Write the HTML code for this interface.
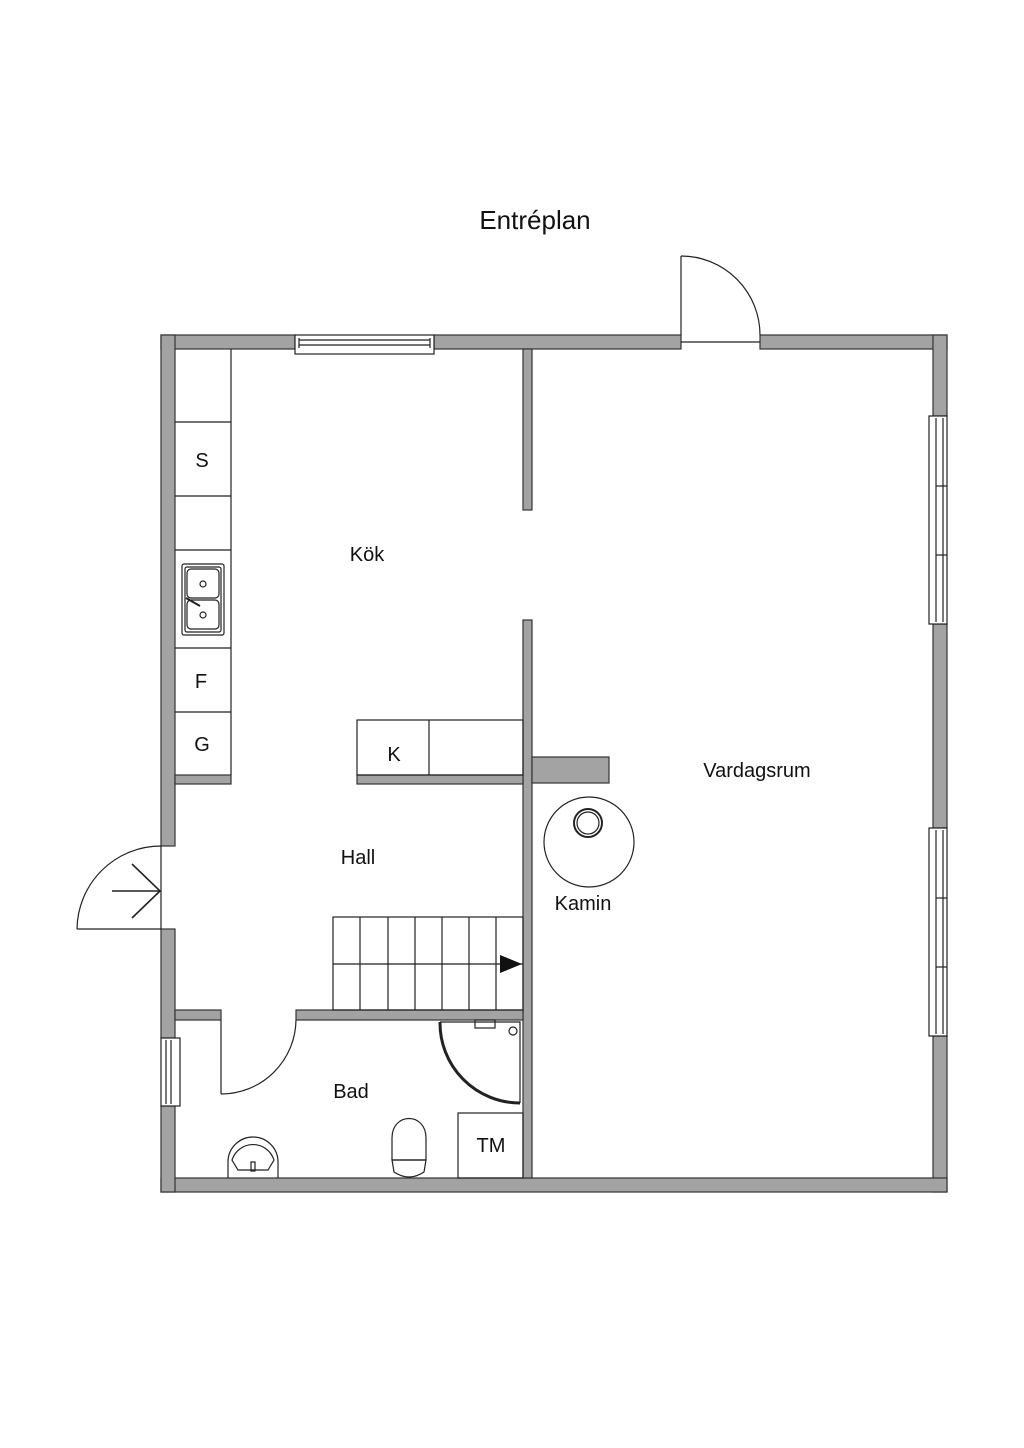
<!DOCTYPE html>
<html><head><meta charset="utf-8"><style>
html,body{margin:0;padding:0;background:#fff;}
svg{display:block;}
text{font-family:"Liberation Sans",sans-serif;fill:#111;}
</style></head><body>
<svg width="1024" height="1448" viewBox="0 0 1024 1448" xmlns="http://www.w3.org/2000/svg">
<rect width="1024" height="1448" fill="#fff"/>
<text x="535" y="229" font-size="26" text-anchor="middle">Entréplan</text>
<g fill="#a3a3a3" stroke="#333" stroke-width="1.2">
<!-- top wall -->
<rect x="161" y="335" width="134" height="14"/>
<rect x="434" y="335" width="247" height="14"/>
<rect x="760" y="335" width="187" height="14"/>
<!-- right wall -->
<rect x="933" y="335" width="14" height="81"/>
<rect x="933" y="624" width="14" height="204"/>
<rect x="933" y="1036" width="14" height="156"/>
<!-- bottom -->
<rect x="161" y="1178" width="786" height="14"/>
<!-- left -->
<rect x="161" y="335" width="14" height="511"/>
<rect x="161" y="929" width="14" height="109"/>
<rect x="161" y="1106" width="14" height="86"/>
<!-- interior vertical -->
<rect x="523" y="349" width="9" height="161"/>
<rect x="523" y="620" width="9" height="558"/>
<rect x="532" y="757" width="77" height="26"/>
<!-- kitchen bottom -->
<rect x="357" y="775" width="166" height="9"/>
<rect x="175" y="775" width="56" height="9"/>
<!-- hall/bath -->
<rect x="175" y="1010" width="46" height="10"/>
<rect x="296" y="1010" width="227" height="10"/>
</g>
<g fill="none" stroke="#222" stroke-width="1.2">
<!-- top window -->
<rect x="295" y="335" width="139" height="19" fill="#fff"/>
<line x1="299" y1="340" x2="430" y2="340"/><line x1="299" y1="345" x2="430" y2="345"/>
<line x1="299" y1="338" x2="299" y2="348"/><line x1="430" y1="338" x2="430" y2="348"/>
<!-- right windows -->
<rect x="929" y="416" width="18" height="208" fill="#fff"/>
<line x1="936" y1="418" x2="936" y2="622"/><line x1="943" y1="418" x2="943" y2="622"/>
<line x1="936" y1="486" x2="947" y2="486"/><line x1="936" y1="555" x2="947" y2="555"/>
<rect x="929" y="828" width="18" height="208" fill="#fff"/>
<line x1="936" y1="830" x2="936" y2="1034"/><line x1="943" y1="830" x2="943" y2="1034"/>
<line x1="936" y1="898" x2="947" y2="898"/><line x1="936" y1="967" x2="947" y2="967"/>
<!-- left bath window -->
<rect x="161" y="1038" width="19" height="68" fill="#fff"/>
<line x1="166" y1="1040" x2="166" y2="1104"/><line x1="171" y1="1040" x2="171" y2="1104"/>
<!-- top door -->
<line x1="681" y1="342" x2="760" y2="342"/>
<line x1="681" y1="335" x2="681" y2="256"/>
<path d="M681 256 A79 79 0 0 1 760 335"/>
<!-- entrance door -->
<line x1="161" y1="846" x2="161" y2="929"/>
<line x1="77" y1="929" x2="161" y2="929"/>
<path d="M77 929 A84 84 0 0 1 161 846"/>
<line x1="112" y1="891" x2="160" y2="891" stroke-width="1.6"/>
<polyline points="132,864 160,891 132,918" stroke-width="1.6"/>
<!-- bath door -->
<line x1="221" y1="1020" x2="221" y2="1094"/>
<path d="M221 1094 A75 75 0 0 0 296 1020"/>
<!-- kitchen counter -->
<line x1="231" y1="349" x2="231" y2="775"/>
<line x1="175" y1="422" x2="231" y2="422"/><line x1="175" y1="496" x2="231" y2="496"/>
<line x1="175" y1="550" x2="231" y2="550"/><line x1="175" y1="648" x2="231" y2="648"/>
<line x1="175" y1="712" x2="231" y2="712"/>
<rect x="182" y="564" width="42" height="71" rx="2"/>
<rect x="185" y="567" width="36" height="65" rx="2"/>
<rect x="187" y="569" width="32" height="29" rx="4"/>
<rect x="187" y="600" width="32" height="29" rx="4"/>
<circle cx="203" cy="584" r="3"/><circle cx="203" cy="615" r="3"/>
<line x1="186" y1="598" x2="200" y2="606" stroke-width="2"/>
<!-- K counter -->
<rect x="357" y="720" width="166" height="55"/>
<line x1="429" y1="720" x2="429" y2="775"/>
<!-- stairs -->
<rect x="333" y="917" width="190" height="93"/>
<line x1="333" y1="964" x2="523" y2="964"/>
<line x1="360" y1="917" x2="360" y2="1010"/><line x1="388" y1="917" x2="388" y2="1010"/>
<line x1="415" y1="917" x2="415" y2="1010"/><line x1="442" y1="917" x2="442" y2="1010"/>
<line x1="469" y1="917" x2="469" y2="1010"/><line x1="496" y1="917" x2="496" y2="1010"/>
<!-- kamin -->
<circle cx="589" cy="842" r="45"/>
<circle cx="588" cy="823" r="14" stroke-width="2"/>
<circle cx="588" cy="823" r="11"/>
<!-- shower -->
<path d="M440 1022 L520 1022 L520 1103 L520 1103" />
<path d="M440 1022 A80 80 0 0 0 520 1103" stroke-width="3"/>
<circle cx="513" cy="1031" r="4"/>
<rect x="475" y="1020" width="20" height="8"/>
<!-- TM -->
<rect x="458" y="1113" width="65" height="65"/>
<!-- toilet -->
<path d="M392 1138 C392 1112 426 1112 426 1138 L426 1160 L392 1160 Z"/>
<path d="M392 1160 L426 1160 L424 1172 Q409 1182 394 1172 Z"/>
<!-- bath sink -->
<path d="M228 1178 L228 1162 A25 25 0 0 1 278 1162 L278 1178"/>
<path d="M232 1160 A22 22 0 0 1 274 1160 L268 1170 L238 1170 Z"/>
<rect x="251" y="1162" width="4" height="9"/>
</g>
<polygon points="500,955 522,964 500,973" fill="#111"/>
<g font-size="20" text-anchor="middle">
<text x="367" y="561">Kök</text>
<text x="757" y="777">Vardagsrum</text>
<text x="358" y="864">Hall</text>
<text x="583" y="910">Kamin</text>
<text x="351" y="1098">Bad</text>
<text x="491" y="1152">TM</text>
<text x="202" y="467">S</text>
<text x="201" y="688">F</text>
<text x="202" y="751">G</text>
<text x="394" y="761">K</text>
</g>
</svg>
</body></html>
